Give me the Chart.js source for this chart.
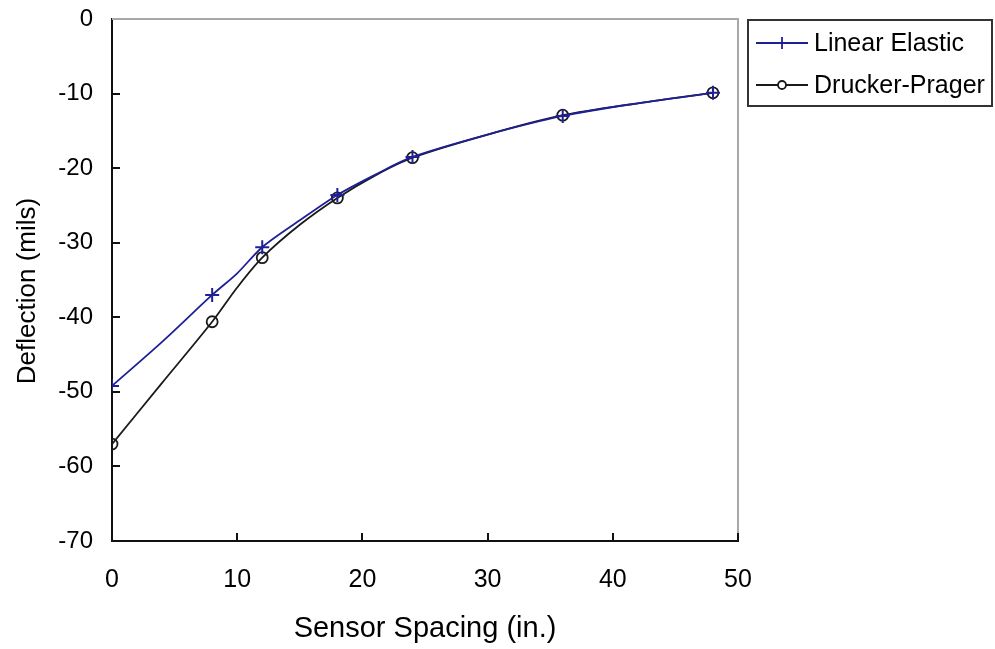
<!DOCTYPE html>
<html>
<head>
<meta charset="utf-8">
<script src="https://cdn.jsdelivr.net/npm/chart.js@4.4.0/dist/chart.umd.min.js"></script>
<style>
  body { margin: 0; background: #fff; }
  canvas { display: block; }
</style>
</head>
<body>
<canvas id="deflection" width="995" height="649"></canvas>
<script>
// sensor positions carry markers, the rest only shape the curve
const sensorSpacing = [0, 8, 12, 18, 24, 36, 48];

const elasticSpacing = [0, 4, 8, 10, 12, 15, 18, 21, 24, 30, 36, 42, 48];
const elasticDeflection = [-49.2, -43.3, -37.0, -34.1, -30.6, -27.0, -23.6, -20.9, -18.5, -15.5, -13.0, -11.3, -9.9];

const pragerSpacing = [0, 4, 8, 10, 12, 15, 18, 21, 24, 30, 36, 42, 48];
const pragerDeflection = [-57.0, -48.8, -40.6, -36.0, -32.0, -27.6, -24.0, -21.0, -18.6, -15.5, -12.9, -11.3, -9.9];

const xTicks = [0, 10, 20, 30, 40, 50];
const yTicks = [0, -10, -20, -30, -40, -50, -60, -70];

const seriesNames = ['Linear Elastic', 'Drucker-Prager'];
const seriesColors = ['#1f1f96', '#1a1a1a'];

const FONT = 'Liberation Sans, Arial, sans-serif';

function toPoints(xs, ys) {
    return xs.map((x, i) => ({x: x, y: ys[i]}));
}

function markerRadius(size) {
    return ctx => sensorSpacing.includes(ctx.raw.x) ? size : 0;
}

// inward tick marks plus the light frame on top and right
const frameTicks = {
    id: 'frameTicks',
    afterDatasetsDraw(chart) {
        const {ctx, chartArea: a, scales: {x, y}} = chart;
        ctx.save();
        ctx.strokeStyle = '#a8a8a8';
        ctx.lineWidth = 2;
        ctx.beginPath();
        ctx.moveTo(a.left, a.top);
        ctx.lineTo(a.right, a.top);
        ctx.lineTo(a.right, a.bottom);
        ctx.stroke();

        ctx.strokeStyle = '#111';
        ctx.lineWidth = 2;
        ctx.beginPath();
        x.ticks.forEach(t => {
            const px = Math.round(x.getPixelForValue(t.value));
            ctx.moveTo(px, a.bottom);
            ctx.lineTo(px, a.bottom - 8);
        });
        y.ticks.forEach(t => {
            const py = Math.round(y.getPixelForValue(t.value));
            if (t.value === 0) return;
            ctx.moveTo(a.left, py);
            ctx.lineTo(a.left + 8, py);
        });
        ctx.stroke();
        ctx.restore();
    }
};

// vertical axis title, sits a little below the plot's middle
const yTitle = {
    id: 'yTitle',
    afterDraw(chart) {
        const ctx = chart.ctx;
        ctx.save();
        ctx.translate(28, 291);
        ctx.rotate(-Math.PI / 2);
        ctx.font = '26px ' + FONT;
        ctx.fillStyle = '#000';
        ctx.textAlign = 'center';
        ctx.textBaseline = 'middle';
        ctx.fillText('Deflection (mils)', 0, 0);
        ctx.restore();
    }
};

// boxed legend to the right of the plot
const boxLegend = {
    id: 'boxLegend',
    afterDraw(chart) {
        const ctx = chart.ctx;
        ctx.save();
        ctx.strokeStyle = '#333';
        ctx.lineWidth = 2;
        ctx.strokeRect(748, 20, 244, 86);

        ctx.font = '25px ' + FONT;
        ctx.textBaseline = 'middle';
        ctx.textAlign = 'left';
        const rows = [43, 85];
        rows.forEach((ry, i) => {
            ctx.strokeStyle = seriesColors[i];
            ctx.lineWidth = 1.8;
            ctx.beginPath();
            ctx.moveTo(756, ry);
            ctx.lineTo(808, ry);
            ctx.stroke();
            ctx.beginPath();
            if (i === 0) {
                ctx.moveTo(782, ry - 6);
                ctx.lineTo(782, ry + 6);
            } else {
                ctx.fillStyle = '#fff';
                ctx.arc(782, ry, 4, 0, Math.PI * 2);
                ctx.fill();
            }
            ctx.stroke();
            ctx.fillStyle = '#000';
            ctx.fillText(seriesNames[i], 814, ry + 1);
        });
        ctx.restore();
    }
};

new Chart(document.getElementById('deflection'), {
    type: 'line',
    data: {
        datasets: [
            {
                label: seriesNames[0],
                data: toPoints(elasticSpacing, elasticDeflection),
                borderColor: seriesColors[0],
                borderWidth: 1.8,
                tension: 0.3,
                pointStyle: 'cross',
                pointRadius: markerRadius(7),
                pointBorderColor: seriesColors[0],
                pointBorderWidth: 2,
                pointBackgroundColor: seriesColors[0]
            },
            {
                label: seriesNames[1],
                data: toPoints(pragerSpacing, pragerDeflection),
                borderColor: seriesColors[1],
                borderWidth: 1.8,
                tension: 0.3,
                pointStyle: 'circle',
                pointRadius: markerRadius(5.5),
                pointBorderColor: seriesColors[1],
                pointBorderWidth: 1.8,
                pointBackgroundColor: 'rgba(255,255,255,0)'
            }
        ]
    },
    options: {
        responsive: false,
        animation: false,
        devicePixelRatio: 1,
        layout: {padding: {top: 19, right: 257, left: 0, bottom: 0}},
        plugins: {
            legend: {display: false},
            tooltip: {enabled: false}
        },
        scales: {
            x: {
                type: 'linear',
                min: 0,
                max: 50,
                afterBuildTicks: s => { s.ticks = xTicks.map(v => ({value: v})); },
                afterFit: s => { s.height = 108; s.paddingLeft = 0; s.paddingRight = 0; },
                grid: {display: false, drawTicks: false},
                border: {display: true, color: '#111', width: 2},
                ticks: {
                    padding: 24,
                    color: '#000',
                    font: {family: FONT, size: 25}
                },
                title: {
                    display: true,
                    text: 'Sensor Spacing (in.)',
                    color: '#000',
                    font: {family: FONT, size: 29},
                    padding: {top: 0, bottom: 3}
                }
            },
            y: {
                min: -70,
                max: 0,
                afterBuildTicks: s => { s.ticks = yTicks.map(v => ({value: v})); },
                afterFit: s => { s.width = 112; s.paddingTop = 0; s.paddingBottom = 0; },
                grid: {display: false, drawTicks: false},
                border: {display: true, color: '#111', width: 2},
                ticks: {
                    padding: 19,
                    color: '#000',
                    font: {family: FONT, size: 24}
                },
                title: {display: false}
            }
        }
    },
    plugins: [frameTicks, yTitle, boxLegend]
});
</script>
</body>
</html>
